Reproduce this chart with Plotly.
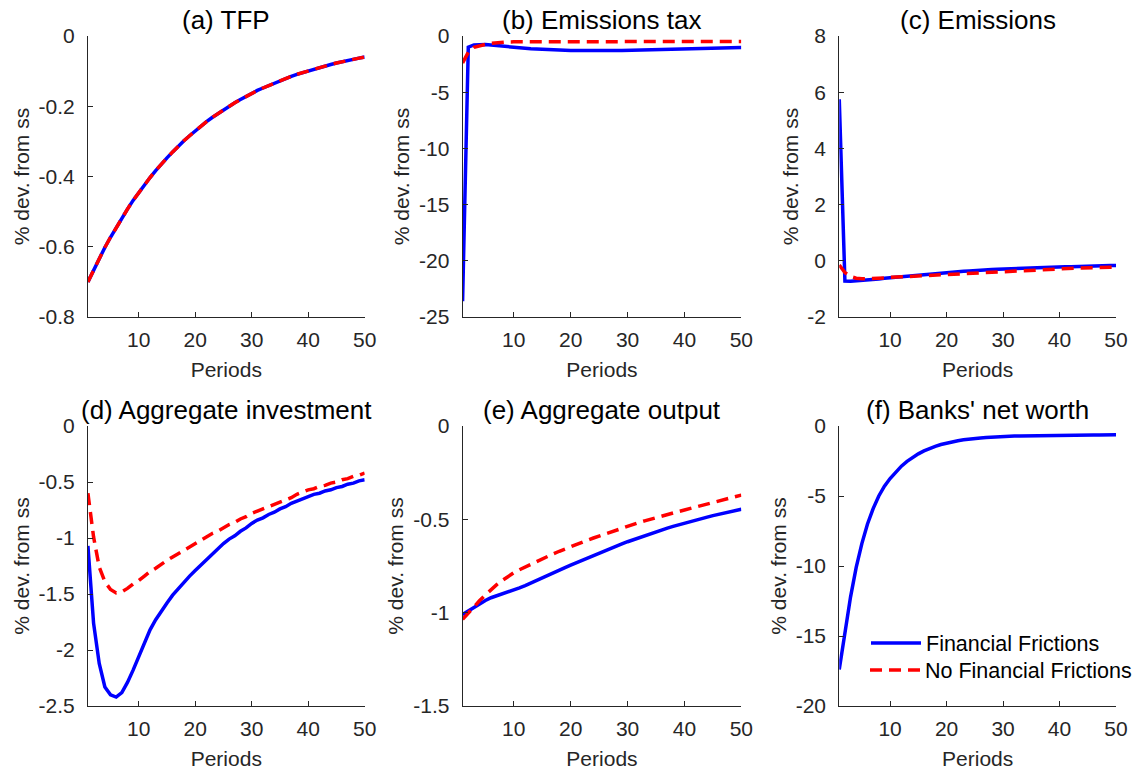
import plotly.graph_objects as go
from plotly.subplots import make_subplots

periods = list(range(1, 51))

tfp_ff = [-0.700, -0.666, -0.633, -0.602, -0.573, -0.545, -0.518, -0.493, -0.468, -0.445,
          -0.424, -0.403, -0.383, -0.364, -0.347, -0.330, -0.313, -0.298, -0.284, -0.270,
          -0.256, -0.244, -0.232, -0.221, -0.210, -0.200, -0.190, -0.181, -0.172, -0.163,
          -0.155, -0.148, -0.141, -0.134, -0.127, -0.121, -0.115, -0.109, -0.104, -0.099,
          -0.094, -0.090, -0.085, -0.081, -0.077, -0.073, -0.070, -0.066, -0.063, -0.060]
tfp_nff = [-0.700, -0.666, -0.633, -0.602, -0.573, -0.545, -0.518, -0.493, -0.468, -0.445,
           -0.424, -0.403, -0.383, -0.364, -0.347, -0.330, -0.313, -0.298, -0.284, -0.270,
           -0.256, -0.244, -0.232, -0.221, -0.210, -0.200, -0.190, -0.181, -0.172, -0.163,
           -0.155, -0.148, -0.141, -0.134, -0.127, -0.121, -0.115, -0.109, -0.104, -0.099,
           -0.094, -0.090, -0.085, -0.081, -0.077, -0.073, -0.070, -0.066, -0.063, -0.060]

tax_ff = [-23.6, -1.00, -0.80, -0.75, -0.76, -0.80, -0.86, -0.92, -0.97, -1.02,
          -1.06, -1.10, -1.14, -1.17, -1.20, -1.22, -1.24, -1.26, -1.27, -1.28,
          -1.29, -1.30, -1.30, -1.30, -1.30, -1.30, -1.29, -1.29, -1.28, -1.27,
          -1.26, -1.25, -1.24, -1.23, -1.22, -1.21, -1.19, -1.18, -1.17, -1.15,
          -1.14, -1.13, -1.11, -1.10, -1.09, -1.07, -1.06, -1.05, -1.04, -1.02]
tax_nff = [-2.40, -1.45, -1.00, -0.85, -0.75, -0.66, -0.60, -0.56, -0.53, -0.52,
           -0.51, -0.51, -0.51, -0.51, -0.51, -0.51, -0.51, -0.51, -0.51, -0.51,
           -0.51, -0.51, -0.51, -0.50, -0.50, -0.50, -0.50, -0.50, -0.50, -0.50,
           -0.50, -0.50, -0.49, -0.49, -0.49, -0.49, -0.49, -0.49, -0.49, -0.49,
           -0.49, -0.49, -0.48, -0.48, -0.48, -0.48, -0.48, -0.48, -0.48, -0.48]

emis_ff = [5.75, -0.72, -0.73, -0.72, -0.71, -0.69, -0.67, -0.65, -0.62, -0.60,
           -0.58, -0.56, -0.54, -0.52, -0.50, -0.48, -0.46, -0.44, -0.43, -0.41,
           -0.40, -0.38, -0.37, -0.36, -0.34, -0.33, -0.32, -0.31, -0.30, -0.29,
           -0.28, -0.27, -0.27, -0.26, -0.25, -0.24, -0.24, -0.23, -0.22, -0.22,
           -0.21, -0.21, -0.20, -0.20, -0.19, -0.19, -0.18, -0.18, -0.17, -0.17]
emis_nff = [-0.15, -0.42, -0.56, -0.62, -0.64, -0.64, -0.63, -0.62, -0.61, -0.59,
            -0.58, -0.57, -0.55, -0.54, -0.53, -0.51, -0.50, -0.49, -0.47, -0.46,
            -0.45, -0.44, -0.43, -0.42, -0.41, -0.40, -0.39, -0.38, -0.37, -0.36,
            -0.35, -0.34, -0.33, -0.33, -0.32, -0.31, -0.30, -0.30, -0.29, -0.28,
            -0.28, -0.27, -0.26, -0.26, -0.25, -0.25, -0.24, -0.24, -0.23, -0.23]

inv_ff = [-1.07, -1.76, -2.12, -2.33, -2.40, -2.42, -2.38, -2.29, -2.18, -2.06,
          -1.94, -1.82, -1.73, -1.65, -1.58, -1.51, -1.45, -1.39, -1.34, -1.29,
          -1.24, -1.19, -1.14, -1.10, -1.05, -1.01, -0.98, -0.94, -0.91, -0.87,
          -0.84, -0.82, -0.79, -0.77, -0.74, -0.72, -0.69, -0.67, -0.65, -0.63,
          -0.61, -0.60, -0.58, -0.57, -0.55, -0.54, -0.52, -0.51, -0.49, -0.48]
inv_nff = [-0.60, -0.99, -1.26, -1.39, -1.46, -1.49, -1.48, -1.45, -1.41, -1.38,
           -1.34, -1.30, -1.27, -1.23, -1.20, -1.17, -1.14, -1.11, -1.08, -1.05,
           -1.02, -0.99, -0.96, -0.94, -0.91, -0.88, -0.86, -0.83, -0.81, -0.78,
           -0.76, -0.74, -0.72, -0.70, -0.68, -0.66, -0.64, -0.61, -0.59, -0.57,
           -0.56, -0.54, -0.53, -0.51, -0.50, -0.48, -0.47, -0.45, -0.44, -0.42]

out_ff = [-1.010, -0.990, -0.970, -0.950, -0.935, -0.920, -0.910, -0.900, -0.890, -0.880,
          -0.867, -0.855, -0.842, -0.829, -0.816, -0.802, -0.788, -0.773, -0.759, -0.745,
          -0.732, -0.719, -0.706, -0.693, -0.680, -0.668, -0.656, -0.644, -0.632, -0.620,
          -0.609, -0.598, -0.587, -0.576, -0.566, -0.557, -0.547, -0.538, -0.529, -0.520,
          -0.512, -0.504, -0.496, -0.488, -0.480, -0.473, -0.466, -0.459, -0.452, -0.446]
out_nff = [-1.036, -1.000, -0.970, -0.935, -0.905, -0.875, -0.850, -0.827, -0.806, -0.786,
           -0.770, -0.755, -0.740, -0.725, -0.710, -0.697, -0.684, -0.671, -0.658, -0.645,
           -0.633, -0.622, -0.611, -0.600, -0.589, -0.578, -0.567, -0.556, -0.546, -0.535,
           -0.526, -0.517, -0.508, -0.499, -0.490, -0.482, -0.474, -0.466, -0.458, -0.450,
           -0.442, -0.434, -0.426, -0.418, -0.410, -0.402, -0.394, -0.386, -0.378, -0.370]

nw_ff = [-17.4, -14.6, -12.2, -10.1, -8.4, -7.0, -5.9, -5.0, -4.3, -3.75,
         -3.27, -2.87, -2.53, -2.24, -1.99, -1.78, -1.60, -1.45, -1.32, -1.21,
         -1.12, -1.05, -0.99, -0.93, -0.89, -0.85, -0.82, -0.79, -0.77, -0.75,
         -0.73, -0.72, -0.71, -0.70, -0.69, -0.68, -0.67, -0.67, -0.66, -0.66,
         -0.65, -0.65, -0.65, -0.64, -0.64, -0.64, -0.64, -0.63, -0.63, -0.63]

titles = ["(a) TFP", "(b) Emissions tax", "(c) Emissions",
          "(d) Aggregate investment", "(e) Aggregate output", "(f) Banks' net worth"]
series_names = ["Financial Frictions", "No Financial Frictions"]
x_tickvals = [10, 20, 30, 40, 50]
x_ticktext = ["10", "20", "30", "40", "50"]

y_ticks = [
    ([-0.8, -0.6, -0.4, -0.2, 0], ["-0.8", "-0.6", "-0.4", "-0.2", "0"]),
    ([-25, -20, -15, -10, -5, 0], ["-25", "-20", "-15", "-10", "-5", "0"]),
    ([-2, 0, 2, 4, 6, 8], ["-2", "0", "2", "4", "6", "8"]),
    ([-2.5, -2, -1.5, -1, -0.5, 0], ["-2.5", "-2", "-1.5", "-1", "-0.5", "0"]),
    ([-1.5, -1, -0.5, 0], ["-1.5", "-1", "-0.5", "0"]),
    ([-20, -15, -10, -5, 0], ["-20", "-15", "-10", "-5", "0"]),
]

panels = [
    (tfp_ff, tfp_nff),
    (tax_ff, tax_nff),
    (emis_ff, emis_nff),
    (inv_ff, inv_nff),
    (out_ff, out_nff),
    (nw_ff, None),
]

W, H = 1137, 776
FONT = "Liberation Sans, Arial, Helvetica, sans-serif"
AX = "#262626"
BLUE = "#0000FF"
RED = "#FF0000"
DASH = "12px,7px"

fig = make_subplots(rows=2, cols=3)

for i, (ff, nff) in enumerate(panels):
    r, c = i // 3 + 1, i % 3 + 1
    last = (i == 5)
    fig.add_trace(go.Scatter(x=periods, y=ff, mode="lines", name=series_names[0],
                             line=dict(color=BLUE, width=3.5), showlegend=last,
                             legend="legend"),
                  row=r, col=c)
    if nff is not None:
        fig.add_trace(go.Scatter(x=periods, y=nff, mode="lines", name=series_names[1],
                                 line=dict(color=RED, width=3.5, dash=DASH),
                                 showlegend=False, legend="legend2"), row=r, col=c)
    else:
        fig.add_trace(go.Scatter(x=[None], y=[None], mode="lines", name=series_names[1],
                                 line=dict(color=RED, width=3.5, dash=DASH),
                                 showlegend=True, legend="legend2"), row=r, col=c)

# pixel boxes of each axes (left, right, top, bottom)
col_px = [(88, 365), (463, 742), (840, 1117)]
row_px = [(36, 317), (426, 706)]

annotations = []
for i in range(6):
    r, c = i // 3, i % 3
    xl, xr = col_px[c]
    yt, yb = row_px[r]
    xd = [xl / W, xr / W]
    yd = [1 - yb / H, 1 - yt / H]
    xa = "xaxis" if i == 0 else f"xaxis{i+1}"
    ya = "yaxis" if i == 0 else f"yaxis{i+1}"
    yv, yt_txt = y_ticks[i]
    fig.layout[xa].update(
        domain=xd, range=[1, 50], tickvals=x_tickvals, ticktext=x_ticktext,
        ticks="inside", ticklen=5, tickcolor=AX, showline=True, linecolor=AX,
        linewidth=1, mirror=False, showgrid=False, zeroline=False,
        tickfont=dict(family=FONT, size=21, color=AX),
        title=dict(text="Periods", font=dict(family=FONT, size=21, color=AX), standoff=12),
        automargin=False, ticklabelstandoff=4)
    fig.layout[ya].update(
        domain=yd, range=[yv[0], yv[-1]], tickvals=yv, ticktext=yt_txt,
        ticks="inside", ticklen=5, tickcolor=AX, showline=True, linecolor=AX,
        linewidth=1, mirror=False, showgrid=False, zeroline=False,
        tickfont=dict(family=FONT, size=21, color=AX),
        title=dict(text="% dev. from ss", font=dict(family=FONT, size=21, color=AX), standoff=3),
        automargin=False, ticklabelstandoff=8)
    annotations.append(dict(
        text=titles[i], x=(xl + xr) / 2 / W, y=1 - (yt - 16) / H,
        xref="paper", yref="paper", xanchor="center", yanchor="middle",
        showarrow=False, font=dict(family=FONT, size=26, color="#000000")))

legend_common = dict(xanchor="left", yanchor="middle", bgcolor="rgba(0,0,0,0)",
                     borderwidth=0, font=dict(family=FONT, size=21.5, color="#000000"),
                     itemwidth=50)
fig.update_layout(
    width=W, height=H, margin=dict(l=0, r=0, t=0, b=0),
    paper_bgcolor="white", plot_bgcolor="white",
    annotations=annotations,
    legend=dict(x=866 / W, y=1 - 643 / H, **legend_common),
    legend2=dict(x=866 / W, y=1 - 670 / H, **legend_common),
    font=dict(family=FONT),
)

fig.write_html("out.html", config={"displayModeBar": False},
               post_script="document.body.style.margin='0';")
